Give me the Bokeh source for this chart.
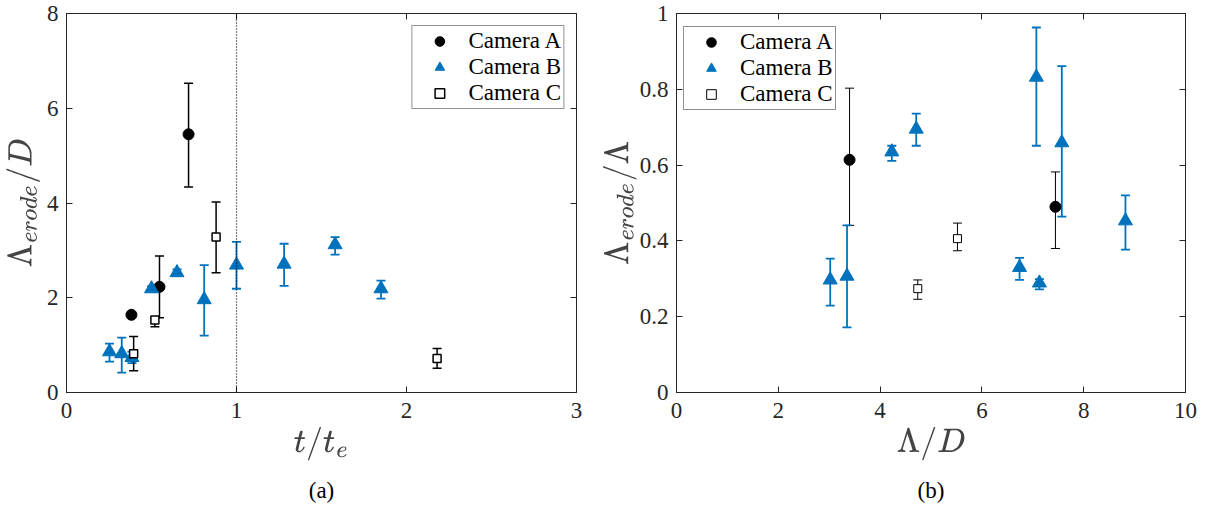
import numpy as np
from bokeh.plotting import figure
from bokeh.models import (ColumnDataSource, Whisker, TeeHead, Span, Legend, LegendItem,
                          LinearAxis, Title, FixedTicker, Range1d)
from bokeh.layouts import row
from bokeh.embed import file_html
from bokeh.resources import INLINE

# ---------------- data: panel (a)  t/t_e vs Lambda_erode/D ----------------
a_camA_x = [0.382, 0.547, 0.718]
a_camA_y = [1.64, 2.23, 5.45]
a_camA_lo = [1.60, 1.58, 4.34]
a_camA_hi = [1.68, 2.88, 6.53]

a_camB_x = [0.253, 0.325, 0.385, 0.50, 0.65, 0.81, 1.00, 1.28, 1.58, 1.85]
a_camB_y = [0.86, 0.82, 0.74, 2.19, 2.53, 1.96, 2.69, 2.71, 3.12, 2.19]
a_camB_lo = [0.65, 0.42, 0.62, 2.14, 2.46, 1.20, 2.19, 2.25, 2.91, 1.98]
a_camB_hi = [1.03, 1.16, 0.86, 2.24, 2.60, 2.69, 3.18, 3.14, 3.28, 2.36]

a_camC_x = [0.395, 0.52, 0.88, 2.18]
a_camC_y = [0.82, 1.53, 3.28, 0.72]
a_camC_lo = [0.46, 1.39, 2.53, 0.51]
a_camC_hi = [1.18, 1.58, 4.02, 0.93]

# ---------------- data: panel (b)  Lambda/D vs Lambda_erode/Lambda ----------------
b_camA_x = [3.40, 7.445]
b_camA_y = [0.614, 0.490]
b_camA_lo = [0.441, 0.380]
b_camA_hi = [0.803, 0.582]

b_camB_x = [3.02, 3.35, 4.23, 4.71, 6.74, 7.13, 7.07, 7.57, 8.82]
b_camB_y = [0.297, 0.307, 0.635, 0.695, 0.330, 0.289, 0.832, 0.659, 0.453]
b_camB_lo = [0.229, 0.172, 0.611, 0.651, 0.297, 0.272, 0.651, 0.464, 0.377]
b_camB_hi = [0.353, 0.441, 0.651, 0.736, 0.355, 0.299, 0.963, 0.861, 0.520]

b_camC_x = [4.74, 5.52]
b_camC_y = [0.274, 0.406]
b_camC_lo = [0.246, 0.374]
b_camC_hi = [0.297, 0.447]

labels = ["Camera A", "Camera B", "Camera C"]

BLUE = "#0072BD"
BLACK = "#000000"
AXC = "#262626"
FONT = "Liberation Serif"
FIG_H = 514
TOP = 13
BOTTOM = 122


def make_fig(xr, yr, xticks, yticks, width, bl, br, xlabel, ylabel, caption,
             ylab_standoff, overrides=None):
    p = figure(width=width, height=FIG_H, x_range=Range1d(*xr), y_range=Range1d(*yr),
               output_backend="svg", toolbar_location=None,
               min_border_left=bl, min_border_right=br, min_border_top=TOP,
               min_border_bottom=BOTTOM, x_axis_location=None, y_axis_location=None)
    p.grid.visible = False
    p.outline_line_color = AXC
    p.outline_line_width = 1
    p.border_fill_color = "white"
    p.background_fill_color = "white"

    axes = {}
    for side in ["below", "left", "above", "right"]:
        ax = LinearAxis()
        ax.ticker = FixedTicker(ticks=xticks if side in ("below", "above") else yticks)
        ax.major_tick_in = 6
        ax.major_tick_out = 0
        ax.minor_tick_line_color = None
        ax.axis_line_color = AXC
        ax.major_tick_line_color = AXC
        ax.major_label_text_font = FONT
        ax.major_label_text_font_size = "23px"
        ax.major_label_text_color = AXC
        if side in ("above", "right"):
            ax.major_label_text_font_size = "0px"
            ax.major_label_standoff = 0
            ax.major_label_text_alpha = 0
        if overrides and side == "left":
            ax.major_label_overrides = overrides
        p.add_layout(ax, side)
        axes[side] = ax
    axes["below"].major_label_standoff = 10
    axes["left"].major_label_standoff = 8
    axes["below"].axis_label = xlabel
    axes["below"].axis_label_text_font_size = "27px"
    axes["below"].axis_label_standoff = 6
    axes["left"].axis_label = ylabel
    axes["left"].axis_label_text_font_size = "27px"
    axes["left"].axis_label_standoff = ylab_standoff
    p.add_layout(Title(text=caption, align="center", text_font=FONT, text_font_size="23px",
                       text_font_style="normal", text_color="black", standoff=24), "below")
    return p


def add_series(p, x, y, lo, hi, color, marker, size, fill, lw, cap=9, mlw=1):
    src = ColumnDataSource(dict(x=x, y=y, lo=lo, hi=hi))
    w = Whisker(base="x", upper="hi", lower="lo", source=src, dimension="height",
                line_color=color, line_width=lw, level="underlay",
                upper_head=TeeHead(size=cap, line_color=color, line_width=lw),
                lower_head=TeeHead(size=cap, line_color=color, line_width=lw))
    p.add_layout(w)
    r = p.scatter("x", "y", source=src, marker=marker, size=size, fill_color=fill,
                  line_color=color, line_width=mlw)
    return r


def add_legend(p, rends, location):
    items = [LegendItem(label=l, renderers=[r]) for l, r in zip(labels, rends)]
    leg = Legend(items=items, location=location, padding=2, spacing=0, margin=12,
                 glyph_width=50, glyph_height=24, label_height=24, label_standoff=4,
                 label_text_font=FONT, label_text_font_size="23px", label_text_color="black",
                 border_line_color=AXC, border_line_width=1, background_fill_alpha=1)
    p.add_layout(leg, "center")


# ---------------- panel (a) ----------------
pa = make_fig((0, 3), (0, 8), [0, 1, 2, 3], [0, 2, 4, 6, 8], 596, 66, 20,
              r"$$t/t_e$$", r"$$\Lambda_{erode}/D$$", "(a)", 4)
pa.add_layout(Span(location=1, dimension="height", line_color="black", line_width=1.2,
                   line_dash="1 2"))
rA = add_series(pa, a_camA_x, a_camA_y, a_camA_lo, a_camA_hi, BLACK, "circle", 11, BLACK, 1.5)
rB = add_series(pa, a_camB_x, a_camB_y, a_camB_lo, a_camB_hi, BLUE, "triangle", 14, BLUE, 1.8)
rC = add_series(pa, a_camC_x, a_camC_y, a_camC_lo, a_camC_hi, BLACK, "square", 8, "white", 1.5,
                mlw=1.5)
add_legend(pa, [rA, rB, rC], "top_right")

# ---------------- panel (b) ----------------
pb = make_fig((0, 10), (0, 1), [0, 2, 4, 6, 8, 10], [0, 0.2, 0.4, 0.6, 0.8, 1.0], 616, 80, 27,
              r"$$\Lambda/D$$", r"$$\Lambda_{erode}/\Lambda$$", "(b)", 0,
              overrides={0: "0", 1: "1"})
sA = add_series(pb, b_camA_x, b_camA_y, b_camA_lo, b_camA_hi, BLACK, "circle", 11, BLACK, 1)
sB = add_series(pb, b_camB_x, b_camB_y, b_camB_lo, b_camB_hi, BLUE, "triangle", 14, BLUE, 1.8)
sC = add_series(pb, b_camC_x, b_camC_y, b_camC_lo, b_camC_hi, BLACK, "square", 8, "white", 1)
add_legend(pb, [sA, sB, sC], (7, 282))

layout = row(pa, pb)
open("out.html", "w").write(file_html(layout, INLINE))
